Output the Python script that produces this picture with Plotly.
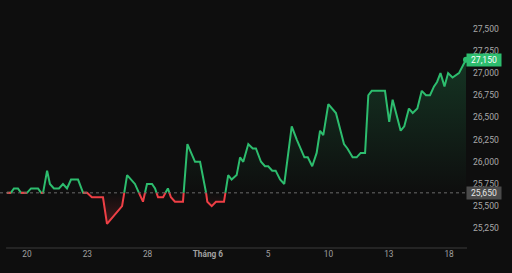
import plotly.graph_objects as go

# trading-day index (0 = 20 May), fractional = intraday
days = [-1.00, -0.80, -0.65, -0.45, -0.30, 0.00, 0.20, 0.55, 0.70, 0.80,
        1.00, 1.14, 1.34, 1.59, 1.79, 1.99, 2.19, 2.54, 2.79, 2.99,
        3.23, 3.78, 3.98, 4.53, 4.73, 4.98, 5.37, 5.57, 5.77, 5.97,
        6.22, 6.37, 6.52, 6.77, 7.01, 7.16, 7.36, 7.76, 7.98, 8.36,
        8.61, 8.91, 8.97, 9.19, 9.40, 9.80, 10.01, 10.18, 10.43, 10.60,
        10.76, 11.01, 11.23, 11.39, 11.64, 11.84, 12.00, 12.20, 12.37, 12.59,
        12.80, 13.17, 13.42, 13.80, 13.97, 14.19, 14.41, 14.58, 14.74, 14.99,
        15.37, 15.77, 15.94, 16.20, 16.40, 16.60, 16.82, 16.98, 17.15, 17.81,
        18.02, 18.19, 18.59, 18.77, 19.00, 19.19, 19.42, 19.64, 19.85, 20.05,
        20.25, 20.40, 20.57, 20.77, 20.95, 21.17, 21.49, 21.72, 21.84]
prices = [25650, 25650, 25700, 25700, 25650, 25650, 25700, 25700, 25650, 25650,
          25900, 25750, 25700, 25700, 25750, 25700, 25800, 25800, 25650, 25650,
          25600, 25600, 25300, 25450, 25500, 25850, 25750, 25650, 25550, 25750,
          25750, 25700, 25600, 25600, 25700, 25600, 25550, 25550, 26200, 26000,
          26000, 25650, 25550, 25500, 25550, 25550, 25850, 25800, 25850, 26050,
          26000, 26200, 26150, 26150, 26000, 25950, 25950, 25900, 25900, 25800,
          25750, 26400, 26250, 26050, 26050, 25950, 26100, 26350, 26300, 26650,
          26550, 26200, 26150, 26050, 26050, 26100, 26100, 26750, 26800, 26800,
          26450, 26700, 26350, 26400, 26600, 26550, 26600, 26800, 26750, 26750,
          26850, 26900, 27000, 26850, 27000, 26950, 27000, 27100, 27150]
baseline = 25650

tick_days = [0, 3, 6, 9, 12, 15, 18, 21]
tick_labels = ["20", "23", "28", "<b>Tháng 6</b>", "5", "10", "13", "18"]
price_ticks = [25250, 25500, 25750, 26000, 26250, 26500, 26750, 27000, 27250, 27500]

GREEN = "#2dbd6e"
RED = "#ee3f45"
BG = "#0e0e0e"

# insert baseline crossings
xs, ys = [], []
for i, (x, y) in enumerate(zip(days, prices)):
    if i > 0:
        x0, y0 = days[i - 1], prices[i - 1]
        if (y0 - baseline) * (y - baseline) < 0:
            t = (baseline - y0) / (y - y0)
            xs.append(x0 + t * (x - x0))
            ys.append(baseline)
    xs.append(x)
    ys.append(y)

up_line = [y if y >= baseline else None for y in ys]
dn_line = [y if y <= baseline else None for y in ys]
up_fill = [max(y, baseline) for y in ys]
dn_fill = [min(y, baseline) for y in ys]
base_arr = [baseline] * len(xs)

fig = go.Figure()
# green fill
fig.add_trace(go.Scatter(x=xs, y=base_arr, mode="lines", line=dict(width=0), hoverinfo="skip", showlegend=False))
fig.add_trace(go.Scatter(x=xs, y=up_fill, mode="lines", line=dict(width=0), fill="tonexty",
                         fillgradient=dict(type="vertical", start=baseline, stop=27150,
                                           colorscale=[[0, "rgba(45,189,110,0)"], [1, "rgba(45,189,110,0.22)"]]),
                         hoverinfo="skip", showlegend=False))
# red fill
fig.add_trace(go.Scatter(x=xs, y=base_arr, mode="lines", line=dict(width=0), hoverinfo="skip", showlegend=False))
fig.add_trace(go.Scatter(x=xs, y=dn_fill, mode="lines", line=dict(width=0), fill="tonexty",
                         fillgradient=dict(type="vertical", start=25300, stop=baseline,
                                           colorscale=[[0, "rgba(238,63,69,0.22)"], [1, "rgba(238,63,69,0)"]]),
                         hoverinfo="skip", showlegend=False))
# lines
fig.add_trace(go.Scatter(x=xs, y=up_line, mode="lines", line=dict(color=GREEN, width=2), connectgaps=False, showlegend=False))
fig.add_trace(go.Scatter(x=xs, y=dn_line, mode="lines", line=dict(color=RED, width=2), connectgaps=False, showlegend=False))
# last point marker
fig.add_trace(go.Scatter(x=[days[-1]], y=[prices[-1]], mode="markers",
                         marker=dict(color=GREEN, size=6), cliponaxis=False, showlegend=False))

fig.add_shape(type="line", xref="paper", yref="y", x0=0, x1=1, y0=baseline, y1=baseline,
              line=dict(color="#6a6a6a", width=1, dash="dot"))
fig.add_shape(type="line", xref="paper", yref="paper", x0=0.013, x1=1, y0=0, y1=0,
              line=dict(color="#3a3a3a", width=1))

fig.add_annotation(xref="paper", yref="y", x=1, y=prices[-1], xanchor="left", text=f"{prices[-1]:,}",
                   showarrow=False, bgcolor=GREEN, font=dict(color="#ffffff", size=8.6, family="Roboto"),
                   width=32, height=10, borderpad=1, xshift=-1)
fig.add_annotation(xref="paper", yref="y", x=1, y=baseline, xanchor="left", text=f"{baseline:,}",
                   showarrow=False, bgcolor="#4a4a4a", font=dict(color="#e6e6e6", size=8.6, family="Roboto"),
                   width=32, height=10, borderpad=1, xshift=-1)

fig.update_layout(
    width=512, height=273,
    margin=dict(l=0, r=45, t=0, b=25),
    paper_bgcolor=BG, plot_bgcolor=BG,
    font=dict(family="Roboto", color="#a8a8a8", size=8),
    xaxis=dict(range=[-1.343, 21.89], tickvals=tick_days, ticktext=tick_labels,
               showgrid=False, zeroline=False, showline=False, ticks="",
               tickfont=dict(size=8.3, color="#a0a0a0")),
    yaxis=dict(range=[25028, 27824], side="right", tickvals=price_ticks, tickformat=",",
               showgrid=False, zeroline=False, showline=False, ticks="",
               ticklabelstandoff=5, tickfont=dict(size=8.6, color="#a8a8a8")),
)

fig.write_html("out.html")
